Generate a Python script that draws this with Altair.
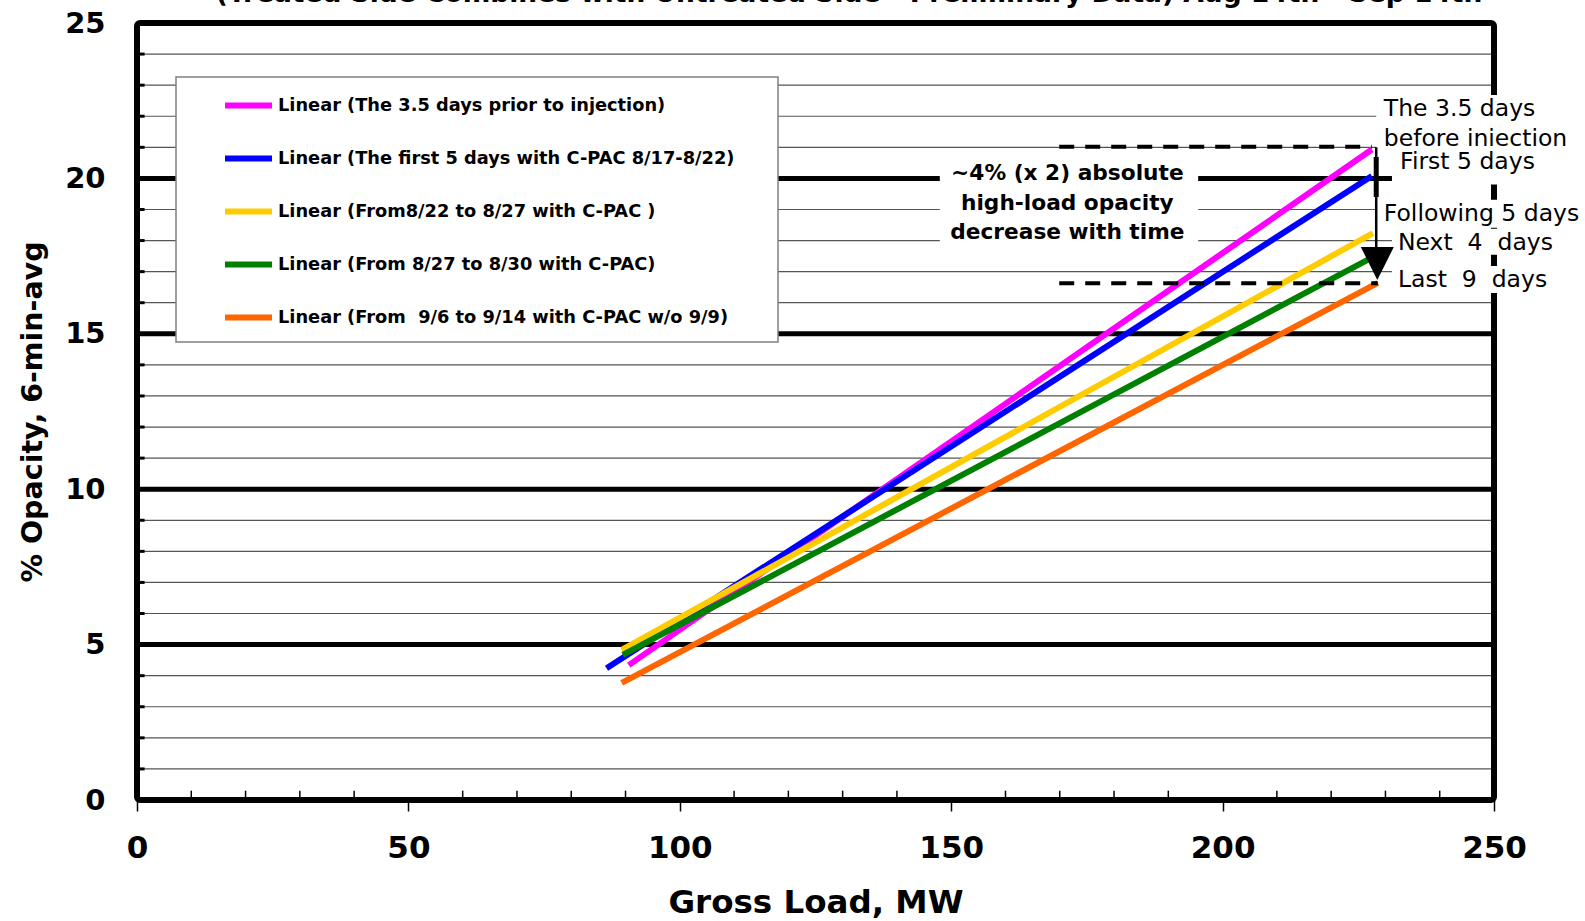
import altair as alt
import pandas as pd

FONT = "DejaVu Sans"
NB = "\u00a0"

# ---------------- data ----------------
series = [
    "Linear (The 3.5 days prior to injection)",
    "Linear (The first 5 days with C-PAC 8/17-8/22)",
    "Linear (From8/22 to 8/27 with C-PAC )",
    "Linear (From 8/27 to 8/30 with C-PAC)",
    "Linear (From" + NB + " 9/6 to 9/14 with C-PAC w/o 9/9)",
]
colors = ["#FF00FF", "#0000FF", "#FFCC00", "#008000", "#FF6600"]
x_start = [90.6, 86.5, 89.3, 89.5, 89.3]
x_end = [227.5, 227.5, 227.7, 227.5, 228.6]
y_start = [4.34, 4.24, 4.83, 4.67, 3.77]
y_end = [20.93, 20.08, 18.24, 17.45, 16.64]

x_ticks = [0, 50, 100, 150, 200, 250]
y_ticks = [0, 5, 10, 15, 20, 25]
major_grid = [5, 10, 15, 20]
minor_grid = [v for v in range(1, 25) if v % 5 != 0]
x_minor = [v for v in range(10, 250, 10) if v % 50 != 0]
y_stub = list(range(1, 25))

# dashed reference lines (start x, end x, level)
dash_x1 = [169.9, 169.9]
dash_x2 = [227.5, 228.6]
dash_y = [21.02, 16.63]

# white boxes behind annotation text (x, x2, y, y2)
box_x = [147.9, 228.3, 231.2, 228.3, 231.2, 231.2]
box_x2 = [195.5, 264.0, 252.9, 266.5, 260.0, 260.0]
box_y = [20.59, 22.68, 20.91, 19.31, 18.38, 17.18]
box_y2 = [17.82, 20.88, 19.80, 18.41, 17.54, 16.31]

center_text = ["~4% (x 2) absolute", "high-load opacity", "decrease with time"]
center_x = [171.4, 171.4, 171.4]
center_y = [20.17, 19.21, 18.29]

right_text = [
    "The 3.5 days",
    "before iniection",
    "First 5 days",
    "Following 5 days",
    "Next" + NB + " 4" + NB + " days",
    "Last" + NB + " 9" + NB + " days",
]
right_x = [229.7, 229.7, 232.7, 229.7, 232.3, 232.3]
right_y = [22.23, 21.26, 20.53, 18.85, 17.93, 16.73]

title_text = "(Treated Side Combines with Untreated Side - Preliminary Data) Aug 14th - Sep 14th"

# ---------------- frames ----------------
rows = []
for i, s in enumerate(series):
    rows.append({"series": s, "x": x_start[i], "y": y_start[i], "o": 0})
    rows.append({"series": s, "x": x_end[i], "y": y_end[i], "o": 1})
lines_df = pd.DataFrame(rows)

W, H = 1357, 777

xscale = alt.Scale(domain=[0, 250], nice=False, zero=False)
yscale = alt.Scale(domain=[0, 25], nice=False, zero=False)

xaxis = alt.Axis(
    title="Gross Load, MW", values=x_ticks, grid=False, domain=False,
    tickSize=11, tickWidth=1.5, tickColor="black",
    labelFont=FONT, labelFontSize=31, labelFontWeight="bold", labelColor="black",
    labelPadding=22, labelFlush=False, labelOverlap=False,
    titleFont=FONT, titleFontSize=32.5, titleFontWeight="bold", titleColor="black",
    titlePadding=23,
)
yaxis = alt.Axis(
    title="% Opacity, 6-min-avg", values=y_ticks, grid=False, domain=False,
    ticks=False, labelFont=FONT, labelFontSize=29, labelFontWeight="bold",
    labelColor="black", labelPadding=32, labelFlush=False, labelOverlap=False,
    titleFont=FONT, titleFontSize=28.5, titleFontWeight="bold", titleColor="black",
    titlePadding=17,
)


def X(f):
    return alt.X(f, type="quantitative", scale=xscale, axis=xaxis)


def Y(f):
    return alt.Y(f, type="quantitative", scale=yscale, axis=yaxis)


minor = alt.Chart(pd.DataFrame({"y": minor_grid})).mark_rule(
    color="#555555", strokeWidth=1.2
).encode(y=Y("y"))

major = alt.Chart(pd.DataFrame({"y": major_grid})).mark_rule(
    color="black", strokeWidth=5
).encode(y=Y("y"))

stubs = alt.Chart(pd.DataFrame({"y": y_stub, "x": [0] * len(y_stub), "x2": [1.4] * len(y_stub)})).mark_rule(
    color="black", strokeWidth=3
).encode(y=Y("y"), x=X("x"), x2="x2")

xmin = alt.Chart(pd.DataFrame({"x": x_minor, "y": [0] * len(x_minor), "y2": [0.3] * len(x_minor)})).mark_rule(
    color="black", strokeWidth=1.5
).encode(x=X("x"), y=Y("y"), y2="y2")

border = alt.Chart(pd.DataFrame({"a": [1]})).mark_rect(
    fill=None, fillOpacity=0, stroke="black", strokeWidth=6, cornerRadius=3
).encode(x=alt.value(0), x2=alt.value(W), y=alt.value(0), y2=alt.value(H))

legend_box = alt.Chart(pd.DataFrame({"a": [1]})).mark_rect(
    fill="white", stroke="#808080", strokeWidth=1.5
).encode(x=alt.value(39), x2=alt.value(641), y=alt.value(54), y2=alt.value(319))

boxes = alt.Chart(pd.DataFrame({"x": box_x, "x2": box_x2, "y": box_y, "y2": box_y2})).mark_rect(
    fill="white", strokeWidth=0
).encode(x=X("x"), x2="x2", y=Y("y"), y2="y2")

lines = alt.Chart(lines_df).mark_line(strokeWidth=6, strokeCap="butt").encode(
    x=X("x"), y=Y("y"),
    color=alt.Color(
        "series:N",
        scale=alt.Scale(domain=series, range=colors),
        sort=series,
        legend=alt.Legend(
            orient="none", legendX=85, legendY=56, title=None,
            symbolType="stroke", symbolSize=2209, symbolStrokeWidth=6,
            labelFont=FONT, labelFontSize=17.8, labelFontWeight="bold", labelColor="black",
            labelLimit=0, rowPadding=14, padding=0, labelOffset=3,
        ),
    ),
    order="o:Q",
)

dashes = alt.Chart(pd.DataFrame({"x": dash_x1, "x2": dash_x2, "y": dash_y})).mark_rule(
    color="black", strokeWidth=4, strokeDash=[15, 11]
).encode(x=X("x"), x2="x2", y=Y("y"))

shaft = alt.Chart(pd.DataFrame({"x": [228.3], "y": [21.0], "y2": [17.3]})).mark_rule(
    color="black", strokeWidth=2.5
).encode(x=X("x"), y=Y("y"), y2="y2")

shaft_thick = alt.Chart(pd.DataFrame({"x": [228.3], "y": [20.69], "y2": [19.40]})).mark_rule(
    color="black", strokeWidth=5
).encode(x=X("x"), y=Y("y"), y2="y2")

head = alt.Chart(pd.DataFrame({"x": [228.5], "y": [16.73]})).mark_point(
    shape="M-1,-2L1,-2L0,0Z", size=1089, filled=True, color="black", opacity=1, strokeWidth=0
).encode(x=X("x"), y=Y("y"))

center = alt.Chart(pd.DataFrame({"x": center_x, "y": center_y, "t": center_text})).mark_text(
    font=FONT, fontSize=21.7, fontWeight="bold", color="black", align="center", baseline="middle"
).encode(x=X("x"), y=Y("y"), text="t:N")

right = alt.Chart(pd.DataFrame({"x": right_x, "y": right_y, "t": right_text})).mark_text(
    font=FONT, fontSize=23.5, color="black", align="left", baseline="middle"
).encode(x=X("x"), y=Y("y"), text="t:N")

title = alt.Chart(pd.DataFrame({"t": [title_text]})).mark_text(
    font=FONT, fontSize=26.5, fontWeight="bold", color="black", align="center", baseline="alphabetic"
).encode(x=alt.value(712), y=alt.value(-21), text="t:N")

chart = alt.layer(
    minor, major, stubs, xmin, border, legend_box, boxes, lines, dashes, shaft, shaft_thick, head,
    center, right, title,
).properties(
    width=W, height=H,
    autosize=alt.AutoSizeParams(type="none"),
    padding={"left": 137, "top": 23, "right": 91, "bottom": 121},
).configure_view(
    stroke=None, fill="white"
).configure(background="white")

chart.save("out.html", embed_options={"renderer": "svg", "actions": False})
